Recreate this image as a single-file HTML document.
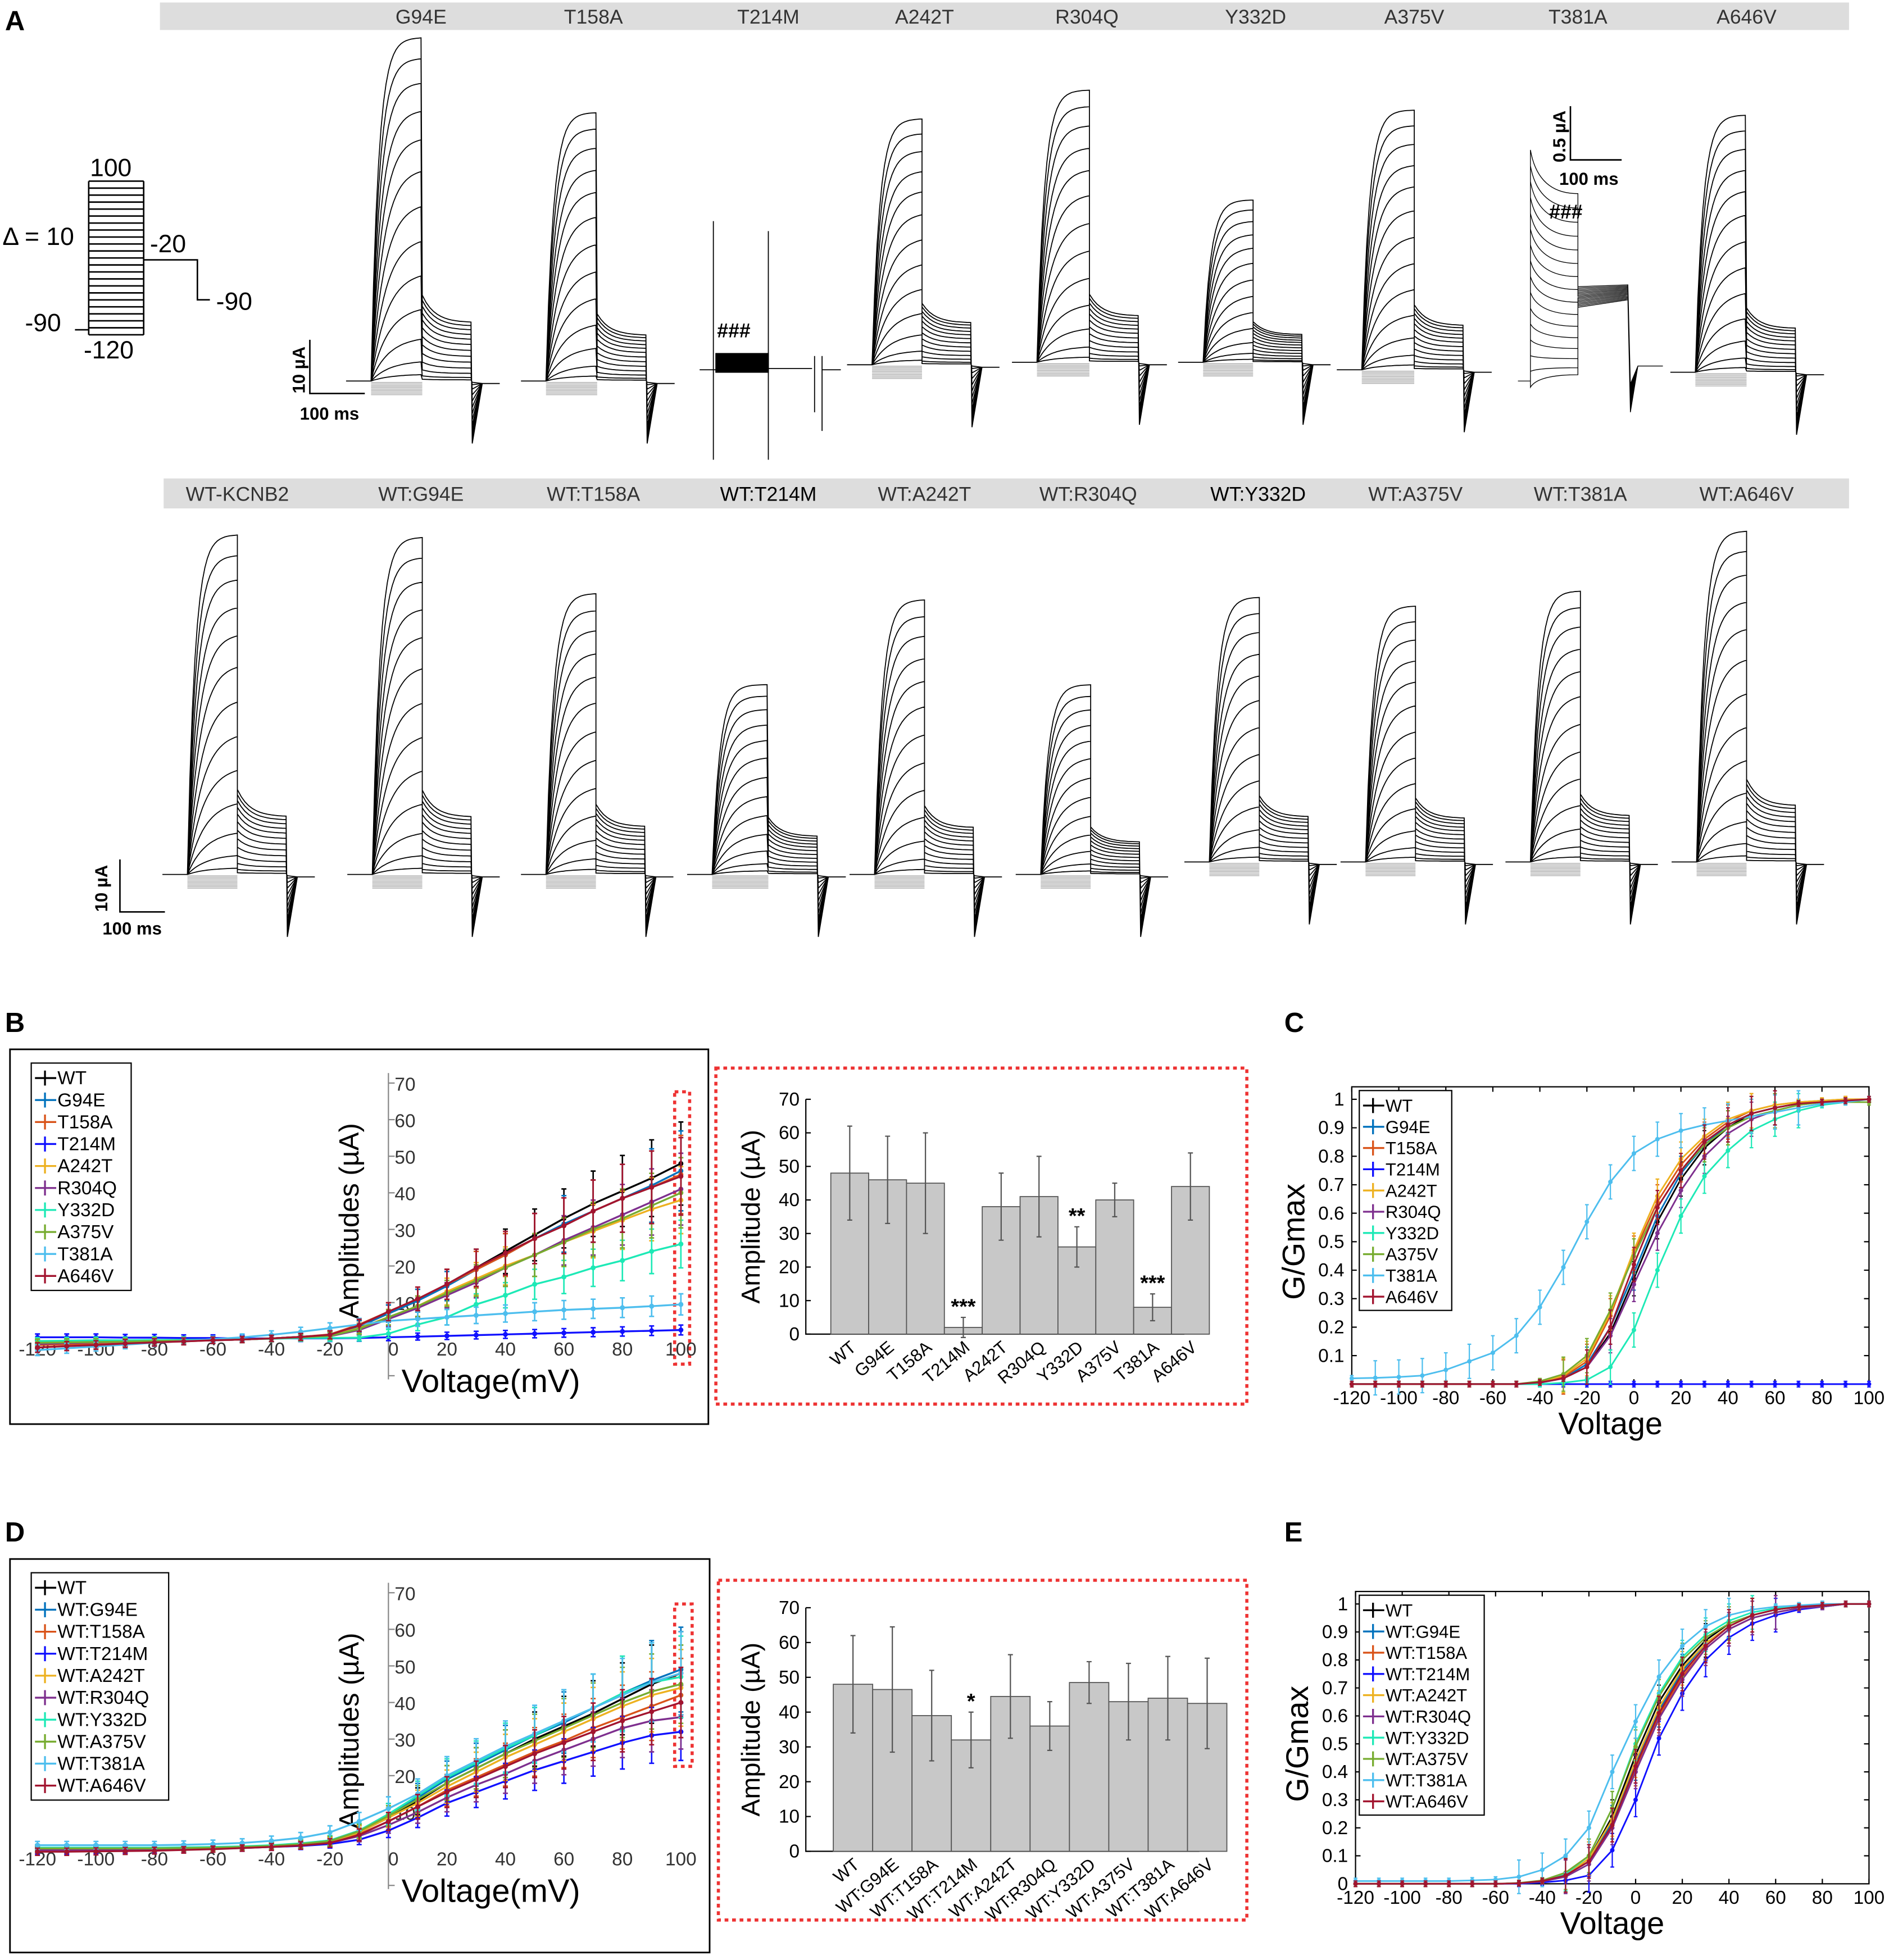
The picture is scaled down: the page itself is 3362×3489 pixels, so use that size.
<!DOCTYPE html>
<html><head><meta charset="utf-8"><style>
html,body{margin:0;padding:0;background:#fff}
svg{display:block}
text{font-family:"Liberation Sans",sans-serif}
</style></head><body>
<svg id="fig" xmlns="http://www.w3.org/2000/svg" width="3362" height="3489" viewBox="0 0 1512 1569" preserveAspectRatio="none">
<rect width="1512" height="1569" fill="#fff"/>
<g id="panelA">
<text x="4" y="24" font-size="22" font-weight="bold">A</text>
<rect x="128" y="2" width="1352" height="22" fill="#ddd"/>
<rect x="131" y="383" width="1349" height="24" fill="#ddd"/>
<g font-size="16" fill="#333" text-anchor="middle">
<text x="337" y="19">G94E</text><text x="475" y="19">T158A</text><text x="615" y="19">T214M</text><text x="740" y="19">A242T</text><text x="870" y="19">R304Q</text><text x="1005" y="19">Y332D</text><text x="1132" y="19">A375V</text><text x="1263" y="19">T381A</text><text x="1398" y="19">A646V</text>
</g>
<g font-size="16" fill="#333" text-anchor="middle">
<text x="190" y="401">WT-KCNB2</text><text x="337" y="401">WT:G94E</text><text x="475" y="401">WT:T158A</text><text x="615" y="401" fill="#000">WT:T214M</text><text x="740" y="401">WT:A242T</text><text x="871" y="401">WT:R304Q</text><text x="1007" y="401" fill="#000">WT:Y332D</text><text x="1133" y="401">WT:A375V</text><text x="1265" y="401">WT:T381A</text><text x="1398" y="401">WT:A646V</text>
</g>
<g id="protocol" stroke="#000" stroke-width="1.2" fill="none"></g>
<g font-size="20">
<text x="72" y="141">100</text><text x="2" y="196">Δ = 10</text><text x="120" y="202">-20</text><text x="173" y="248">-90</text><text x="20" y="265">-90</text><text x="67" y="287">-120</text>
</g>
<g stroke="#000" stroke-width="1.2" fill="none">
<path d="M248 272 V315 H292"/><path d="M1257 85 V128 H1298"/><path d="M96 688 V730 H132"/>
</g>
<g font-size="14" font-weight="bold">
<text x="240" y="336">100 ms</text><text transform="translate(244,315) rotate(-90)">10 µA</text>
<text x="1248" y="148">100 ms</text><text transform="translate(1253,130) rotate(-90)">0.5 µA</text>
<text x="82" y="748">100 ms</text><text transform="translate(86,730) rotate(-90)">10 µA</text>
<text x="574" y="270" font-size="16">###</text><text x="1240" y="175" font-size="16">###</text>
</g>
<g id="traces" stroke="#000" stroke-width="0.8" fill="none"></g>
</g>
<text x="4" y="826" font-size="22" font-weight="bold">B</text>
<text x="1028" y="826" font-size="22" font-weight="bold">C</text>
<text x="4" y="1234" font-size="22" font-weight="bold">D</text>
<text x="1028" y="1234" font-size="22" font-weight="bold">E</text>
<rect x="8" y="840" width="559" height="300" fill="none" stroke="#000" stroke-width="1.3"/>
<rect x="8" y="1248" width="560" height="315" fill="none" stroke="#000" stroke-width="1.3"/>
<rect x="573" y="855" width="425" height="269" fill="none" stroke="#e33" stroke-width="2.5" stroke-dasharray="3,3"/>
<rect x="575" y="1265" width="423" height="272" fill="none" stroke="#e33" stroke-width="2.5" stroke-dasharray="3,3"/>
<rect x="540" y="874" width="12" height="218" fill="none" stroke="#e33" stroke-width="2.5" stroke-dasharray="3,3"/>
<rect x="540" y="1284" width="14" height="130" fill="none" stroke="#e33" stroke-width="2.5" stroke-dasharray="3,3"/>
<g id="charts"></g>
</svg>
<script>
const NS='http://www.w3.org/2000/svg';
function mk(tag,attrs,parent){const e=document.createElementNS(NS,tag);for(const k in attrs)e.setAttribute(k,attrs[k]);parent.appendChild(e);return e;}
const volts=[-120,-110,-100,-90,-80,-70,-60,-50,-40,-30,-20,-10,0,10,20,30,40,50,60,70,80,90,100];
const seriesNames=['WT','G94E','T158A','T214M','A242T','R304Q','Y332D','A375V','T381A','A646V'];
const seriesColors=['#000000','#0072BD','#D95319','#1010ff','#EDB120','#7E2F8E','#1de9b6','#77AC30','#4DBEEE','#A2142F'];
// B: IV amplitudes (µA)
const ivB_WT=[-1.5,-1.3,-1.1,-0.9,-0.7,-0.5,-0.3,-0.1,0.2,0.6,1.2,3.5,7,10.5,15,19.5,24,28.5,33,37,40.5,44,48];
const ivB_G94E=[-1.4,-1.2,-1.0,-0.8,-0.6,-0.5,-0.3,-0.1,0.2,0.6,1.2,3.5,7,10.5,14.5,19,23,27.5,31.5,35,38.5,42,46];
const ivB_T158A=[-1.6,-1.4,-1.2,-1.0,-0.8,-0.6,-0.3,-0.1,0.2,0.6,1.3,4,7.5,11,15,19,23,27.5,31,35,38.5,41.5,45];
const ivB_T214M=[0.5,0.5,0.5,0.4,0.4,0.3,0.3,0.2,0.2,0.2,0.2,0.3,0.5,0.7,0.9,1.1,1.3,1.5,1.7,1.9,2.1,2.3,2.5];
const ivB_A242T=[-1.2,-1,-0.9,-0.7,-0.6,-0.4,-0.3,-0.1,0.2,0.5,1,3,6,9,13,16.5,20,23,26.5,29.5,32.5,35.5,38];
const ivB_R304Q=[-1.3,-1.1,-0.9,-0.7,-0.6,-0.4,-0.3,-0.1,0.2,0.5,0.8,2.5,5.5,8.5,12,15.5,19.5,23,27,30.5,34,37.5,41];
const ivB_Y332D=[-0.5,-0.4,-0.3,-0.3,-0.2,-0.2,-0.1,0,0.1,0.3,0.3,0.4,1.5,4,6,9.5,12,15,17,19.5,21.5,24,26];
const ivB_A375V=[-1,-0.9,-0.8,-0.7,-0.5,-0.4,-0.2,-0.1,0.2,0.5,0.9,2.8,6,9,12.5,16,19.5,23,26.5,30,33,36.5,40];
const ivB_T381A=[-3,-2.5,-2,-1.5,-1,-0.5,0,0.5,1.2,2,3,4,5,5.5,6,6.5,7,7.5,8,8.3,8.6,9,9.5];
const ivB_A646V=[-2.3,-1.9,-1.6,-1.2,-0.9,-0.6,-0.3,-0.1,0.2,0.6,1.2,3.8,7.5,11,15,19.5,23.5,27.5,31,35,38.5,41.5,44.5];
// D: IV amplitudes (µA) co-expression
const ivD_WT=[0,0,0,0,0,0.1,0.2,0.4,0.7,1.2,2,4.5,8.5,13,18,22,26,30,33.5,37,41,45,48];
const ivD_G94E=[0.2,0.2,0.2,0.2,0.2,0.3,0.4,0.6,0.9,1.4,2.3,5,9.5,14,19,23,27,31,34.5,38.5,42.5,46,49];
const ivD_T158A=[0,0,0,0,0,0.1,0.2,0.4,0.7,1.1,1.8,4,7.5,11.5,16,19.5,23,26.5,29.5,33,36,39,42];
const ivD_T214M=[-0.5,-0.5,-0.4,-0.4,-0.3,-0.2,0,0.2,0.5,0.8,1.3,2.5,5,8.5,12.5,15.5,18.5,21.5,24,26.5,29,31,32];
const ivD_A242T=[0,0,0,0,0,0.1,0.2,0.4,0.7,1.1,1.9,4.5,8.5,12.5,17,21,25,28.5,32,35.5,39,42,44];
const ivD_R304Q=[-0.3,-0.3,-0.2,-0.2,-0.1,0,0.1,0.3,0.6,1,1.6,3.5,6.5,10,14,17.5,20.5,24,27,30,33,35,36];
const ivD_Y332D=[0.3,0.3,0.3,0.3,0.3,0.4,0.5,0.7,1,1.5,2.3,5,9.5,14.5,19.5,23.5,27.5,31,35,38.5,42.5,45.5,47];
const ivD_A375V=[0.1,0.1,0.1,0.1,0.1,0.2,0.3,0.5,0.8,1.3,2.1,4.8,9,13.5,18,22,26,29.5,33,36.5,40,43,45];
const ivD_T381A=[1,1,1,1,1,1.1,1.3,1.6,2.2,3,4.5,7.5,11,15,20,24,28,31.5,35,38.5,42,45.5,48];
const ivD_A646V=[-0.8,-0.8,-0.7,-0.6,-0.5,-0.3,-0.1,0.2,0.5,0.9,1.6,3.8,7.5,11.5,15.5,19,22.5,26,29,32,35,37.5,40];
// C: G/Gmax
const gC_WT=[0,0,0,0,0,0,0,0,0.005,0.02,0.06,0.18,0.37,0.57,0.72,0.83,0.9,0.95,0.97,0.985,0.99,0.995,1];
const gC_G94E=[0,0,0,0,0,0,0,0,0.005,0.02,0.07,0.2,0.39,0.59,0.74,0.84,0.91,0.95,0.97,0.985,0.99,0.995,1];
const gC_T158A=[0,0,0,0,0,0,0,0,0.006,0.025,0.08,0.24,0.46,0.64,0.77,0.86,0.92,0.96,0.98,0.99,0.995,1,1];
const gC_T214M=[0,0,0,0,0,0,0,0,0,0,0,0,0,0,0,0,0,0,0,0,0,0,0];
const gC_A242T=[0,0,0,0,0,0,0,0,0.007,0.03,0.09,0.25,0.47,0.66,0.79,0.87,0.93,0.96,0.98,0.99,0.995,1,1];
const gC_R304Q=[0,0,0,0,0,0,0,0,0.005,0.02,0.06,0.17,0.35,0.53,0.68,0.8,0.88,0.93,0.96,0.98,0.99,0.995,1];
const gC_Y332D=[0,0,0,0,0,0,0,0,0,0.005,0.015,0.06,0.19,0.4,0.59,0.73,0.82,0.89,0.93,0.96,0.98,0.99,1];
const gC_A375V=[0,0,0,0,0,0,0,0,0.01,0.035,0.1,0.26,0.45,0.62,0.75,0.84,0.9,0.94,0.96,0.98,0.99,0.99,0.99];
const gC_T381A=[0.02,0.022,0.025,0.03,0.05,0.08,0.11,0.17,0.27,0.41,0.57,0.71,0.81,0.86,0.89,0.91,0.925,0.94,0.955,0.97,0.985,0.99,1];
const gC_A646V=[0,0,0,0,0,0,0,0,0.006,0.02,0.06,0.2,0.42,0.62,0.75,0.85,0.91,0.95,0.97,0.985,0.99,0.995,1];
// E: G/Gmax co-expression
const gE_WT=[0,0,0,0,0,0,0,0.002,0.01,0.03,0.09,0.24,0.46,0.65,0.78,0.87,0.93,0.96,0.98,0.99,0.995,1,1];
const gE_G94E=[0,0,0,0,0,0,0,0.002,0.01,0.03,0.08,0.22,0.43,0.62,0.76,0.86,0.92,0.96,0.98,0.99,0.995,1,1];
const gE_T158A=[0,0,0,0,0,0,0,0.002,0.01,0.03,0.08,0.21,0.41,0.6,0.74,0.84,0.91,0.95,0.97,0.985,0.99,1,1];
const gE_T214M=[0,0,0,0,0,0,0,0,0.005,0.012,0.03,0.12,0.3,0.52,0.68,0.8,0.88,0.93,0.96,0.98,0.99,1,1];
const gE_A242T=[0,0,0,0,0,0,0,0.002,0.01,0.03,0.09,0.23,0.44,0.63,0.77,0.86,0.92,0.96,0.98,0.99,0.995,1,1];
const gE_R304Q=[0,0,0,0,0,0,0,0.002,0.008,0.025,0.07,0.2,0.4,0.59,0.73,0.84,0.91,0.95,0.97,0.985,0.99,1,1];
const gE_Y332D=[0,0,0,0,0,0,0,0.002,0.01,0.035,0.1,0.27,0.5,0.68,0.81,0.89,0.94,0.97,0.985,0.99,0.995,1,1];
const gE_A375V=[0,0,0,0,0,0,0,0.003,0.012,0.04,0.1,0.27,0.49,0.67,0.8,0.88,0.93,0.96,0.98,0.99,0.995,1,1];
const gE_T381A=[0.01,0.01,0.01,0.01,0.01,0.012,0.015,0.025,0.05,0.1,0.2,0.4,0.58,0.74,0.85,0.92,0.96,0.98,0.99,0.995,1,1,1];
const gE_A646V=[0,0,0,0,0,0,0,0.002,0.01,0.03,0.08,0.21,0.42,0.61,0.75,0.85,0.92,0.96,0.98,0.99,0.995,1,1];
// bars
const barB_labels=['WT','G94E','T158A','T214M','A242T','R304Q','Y332D','A375V','T381A','A646V'];
const barB_values=[48,46,45,2,38,41,26,40,8,44];
const barB_errors=[14,13,15,3,10,12,6,5,4,10];
const barB_stars=['','','','***','','','**','','***',''];
const barD_labels=['WT','WT:G94E','WT:T158A','WT:T214M','WT:A242T','WT:R304Q','WT:Y332D','WT:A375V','WT:T381A','WT:A646V'];
const barD_values=[48,46.5,39,32,44.5,36,48.5,43,44,42.5];
const barD_errors=[14,18,13,8,12,7,6,11,12,13];
const barD_stars=['','','','*','','','','','',''];
const yTicksIV=[10,20,30,40,50,60,70];
const xTicksIV=[-120,-100,-80,-60,-40,-20,0,20,40,60,80,100];
const yTicksG=[0.1,0.2,0.3,0.4,0.5,0.6,0.7,0.8,0.9,1];
const barTicks=[0,10,20,30,40,50,60,70];
// family amplitude fractions per step (illustrative traces)
const stepFrac=[0,0,0,0,0,0,0,0,0,0.005,0.02,0.06,0.13,0.22,0.32,0.42,0.52,0.62,0.71,0.79,0.87,0.94,1];

const ivB=[ivB_WT,ivB_G94E,ivB_T158A,ivB_T214M,ivB_A242T,ivB_R304Q,ivB_Y332D,ivB_A375V,ivB_T381A,ivB_A646V];
const ivD=[ivD_WT,ivD_G94E,ivD_T158A,ivD_T214M,ivD_A242T,ivD_R304Q,ivD_Y332D,ivD_A375V,ivD_T381A,ivD_A646V];
const gC=[gC_WT,gC_G94E,gC_T158A,gC_T214M,gC_A242T,gC_R304Q,gC_Y332D,gC_A375V,gC_T381A,gC_A646V];
const gE=[gE_WT,gE_G94E,gE_T158A,gE_T214M,gE_A242T,gE_R304Q,gE_Y332D,gE_A375V,gE_T381A,gE_A646V];

const charts=document.getElementById('charts');

(function(){
 const g=document.getElementById('protocol');
 for(let i=0;i<23;i++){const y=145+i*(123/22);const l=mk('line',{x1:71,x2:115,y1:y,y2:y},g);
 
 }
 mk('path',{d:'M71 145 V268 M115 145 V268 M60 264 H71 M115 208 H158 V240 H168'},g);
})();

const fams=[
 {x0:297,x1:338,base:305,top:30,tailF:0.2},{x0:437,x1:478,base:305,top:90,tailF:0.2},
 {x0:698,x1:738,base:292,top:95,tailF:0.2},{x0:830,x1:872,base:290,top:72,tailF:0.2},
 {x0:963,x1:1003,base:290,top:160,tailF:0.2},{x0:1090,x1:1132,base:296,top:88,tailF:0.2},
 {x0:1357,x1:1398,base:298,top:92,tailF:0.2},
 {x0:150,x1:190,base:700,top:428,tailF:0.2},{x0:298,x1:338,base:700,top:430,tailF:0.2},
 {x0:437,x1:477,base:700,top:475,tailF:0.2},{x0:570,x1:615,base:700,top:548,tailF:0.25},
 {x0:700,x1:740,base:700,top:480,tailF:0.2},{x0:833,x1:873,base:700,top:548,tailF:0.2},
 {x0:968,x1:1008,base:690,top:478,tailF:0.2},{x0:1093,x1:1133,base:690,top:485,tailF:0.2},
 {x0:1225,x1:1265,base:690,top:473,tailF:0.2},{x0:1358,x1:1398,base:690,top:425,tailF:0.2}];
(function(){
 const g=document.getElementById('traces');
 fams.forEach((f,fi)=>{
  const A=f.base-f.top;const w=f.x1-f.x0;let d='';let dn='';
  stepFrac.forEach((fr,k)=>{
   const a=A*fr;
   if(k<10){const neg=(10-k)*1.1;dn+='M'+f.x0+' '+(f.base+neg)+' H'+f.x1;return;}
   let p='M'+(f.x0-20)+' '+f.base+' H'+f.x0;
   for(let t=0;t<=w;t+=2){const y=f.base-a*(1-Math.exp(-t/(6+10*(1-fr))));p+=' L'+(f.x0+t)+' '+y.toFixed(1);}
   for(let t=0;t<=40;t+=3){const y=f.base-a*f.tailF*(0.6+0.4*Math.exp(-t/10))-a*0.05;p+=' L'+(f.x1+t)+' '+y.toFixed(1);}
   p+=' L'+(f.x1+40)+' '+(f.base+fr*50).toFixed(1)+' L'+(f.x1+48)+' '+(f.base+2)+' H'+(f.x1+62);
   d+=p;
  });
  const pth=mk('path',{d:d},g);
  
  
  const pn=mk('path',{d:dn,stroke:'#999','stroke-width':0.5},g);
  
  
 });
 const s=mk('path',{d:'M560 296 H573 M571 177 V368 M615 185 V368 M615 295 H650 M652 285 V330 M658 285 V345 M658 296 H673',stroke:'#000'},g);
 
 
 const r=mk('rect',{x:573,y:283,width:42,height:15,fill:'#000'},g);
 
 
 let d='';
 for(let k=0;k<16;k++){const base=305,x0=1225,x1=1263;const q=k/15;const pk=310-q*190;const pl=300-Math.pow(q,1.2)*145;
  d+='M'+(x0-10)+' '+base+' H'+x0+' L'+x0+' '+pk.toFixed(1)+' Q'+(x0+6)+' '+pl.toFixed(1)+' '+x1+' '+pl.toFixed(1)+' L'+x1+' '+(246-k*1.1).toFixed(1)+' L'+(x1+40)+' '+(240-k*0.8).toFixed(1)+' L'+(x1+42)+' '+(330-k*1.5)+' L'+(x1+48)+' '+(293)+' H'+(x1+68);}
 const t=mk('path',{d:d,'stroke-width':0.6},g);
 
 
})();

function ivChart(cfg,data,names,prefix){
 const g=mk('g',{},charts);
 
 
 const X=v=>cfg.x0+(v+120)/220*(cfg.x1-cfg.x0);
 const Y=v=>cfg.y0-v/70*(cfg.y0-cfg.y70);
 const ax=mk('line',{x1:X(0),x2:X(0),y1:cfg.y70-8,y2:Y(-11),stroke:'#888','stroke-width':1},g);
 
 
 yTicksIV.concat([-10]).forEach(v=>{const t=mk('line',{x1:X(0),x2:X(0)+5,y1:Y(v),y2:Y(v),stroke:'#888'},g);
  
  
  if(v>0){const tx=mk('text',{x:X(0)+5,y:Y(v)+6,'font-size':15,fill:'#333'},g);tx.textContent=v;
  
  }});
 xTicksIV.forEach(v=>{const tx=mk('text',{x:X(v)+(v===0?4:0),y:Y(-4.5),'font-size':15,fill:'#333','text-anchor':'middle'},g);tx.textContent=v;
  
  });
 const yl=mk('text',{transform:`translate(${X(0)-24},${(Y(70)+Y(0))/2+8}) rotate(-90)`,'font-size':22,'text-anchor':'middle'},g);yl.textContent='Amplitudes (µA)';
 
 
 const xl=mk('text',{x:X(0)+82,y:Y(-14.5),'font-size':26,'text-anchor':'middle'},g);xl.textContent='Voltage(mV)';
 
 
 data.forEach((arr,si)=>{
  const c=seriesColors[si];let d='';
  arr.forEach((v,i)=>{d+=(i?'L':'M')+X(volts[i]).toFixed(1)+' '+Y(v).toFixed(1);});
  const p=mk('path',{d:d,stroke:c,fill:'none','stroke-width':1.5},g);
  
  
  arr.forEach((v,i)=>{const e=Math.abs(v)*0.22+0.8;const x=X(volts[i]);
   const eb=mk('path',{d:`M${x} ${Y(v-e)} V${Y(v+e)} M${x-2} ${Y(v-e)} H${x+2} M${x-2} ${Y(v+e)} H${x+2}`,stroke:c,'stroke-width':1.2},g);
   
   
   const m=mk('circle',{cx:x,cy:Y(v),r:2,fill:c},g);
   
   });
 });
 legend(g,cfg.lx,cfg.ly,cfg.lw,names,17.6,15);
}
function legend(g,x,y,w,names,step,fs){
 const box=mk('rect',{x:x,y:y,width:w,height:names.length*step+6,fill:'#fff',stroke:'#000','stroke-width':1},g);
 
 
 names.forEach((n,i)=>{const yy=y+12+i*step;const c=seriesColors[i];
  const l=mk('path',{d:`M${x+3} ${yy} H${x+20} M${x+11} ${yy-6} V${yy+6}`,stroke:c,'stroke-width':1.5},g);
  
  
  const t=mk('text',{x:x+21,y:yy+5,'font-size':fs},g);t.textContent=n;
  
  });
}
function gChart(cfg,data,names,prefix){
 const g=mk('g',{},charts);
 
 
 const X=v=>cfg.x0+(v+120)/220*(cfg.x1-cfg.x0);
 const Y=v=>cfg.y0-v*(cfg.y0-cfg.y1);
 const fr=mk('rect',{x:cfg.x0,y:cfg.y1-10,width:cfg.x1-cfg.x0,height:cfg.y0-cfg.y1+10,fill:'none',stroke:'#000','stroke-width':1},g);
 
 
 yTicksG.forEach(v=>{const tk=mk('path',{d:`M${cfg.x0} ${Y(v)} h4 M${cfg.x1} ${Y(v)} h-4`,stroke:'#000'},g);
  
  
  const t=mk('text',{x:cfg.x0-6,y:Y(v)+5,'font-size':15,'text-anchor':'end'},g);t.textContent=v;
  
  });
 if(cfg.zero){const t=mk('text',{x:cfg.x0-6,y:Y(0)+5,'font-size':15,'text-anchor':'end'},g);t.textContent='0';
  
  }
 xTicksIV.forEach(v=>{const tk=mk('path',{d:`M${X(v)} ${cfg.y0} v-4 M${X(v)} ${cfg.y1-10} v4`,stroke:'#000'},g);
  
  
  const t=mk('text',{x:X(v),y:cfg.y0+16,'font-size':15,'text-anchor':'middle'},g);t.textContent=v;
  
  });
 const xl=mk('text',{x:(cfg.x0+cfg.x1)/2,y:cfg.y0+40,'font-size':25,'text-anchor':'middle'},g);xl.textContent='Voltage';
 
 
 const yl=mk('text',{transform:`translate(${cfg.x0-38},${(cfg.y0+cfg.y1)/2}) rotate(-90)`,'font-size':25,'text-anchor':'middle'},g);yl.textContent='G/Gmax';
 
 
 data.forEach((arr,si)=>{const c=seriesColors[si];let d='';
  arr.forEach((v,i)=>{d+=(i?'L':'M')+X(volts[i]).toFixed(1)+' '+Y(v).toFixed(1);});
  const p=mk('path',{d:d,stroke:c,fill:'none','stroke-width':1.3},g);
  
  
  arr.forEach((v,i)=>{const x=X(volts[i]);const e=(v>0.02&&v<0.98)?0.06:0.01;
   const eb=mk('path',{d:`M${x} ${Y(v-e)} V${Y(v+e)} M${x-1.5} ${Y(v-e)} h3 M${x-1.5} ${Y(v+e)} h3`,stroke:c,'stroke-width':1},g);
   
   
   const m=mk('circle',{cx:x,cy:Y(v),r:1.8,fill:c},g);
   
   });
 });
 legend(g,cfg.lx,cfg.ly,cfg.lw,names,17,14);
}
function barChart(cfg,labels,vals,errs,stars,prefix){
 const g=mk('g',{},charts);
 
 
 const Y=v=>cfg.y0-v/70*(cfg.y0-cfg.y70);
 const bw=(cfg.x1-cfg.x0)/labels.length;
 const ax=mk('path',{d:`M${cfg.x0} ${cfg.y70} V${cfg.y0} H${cfg.x1}`,stroke:'#000',fill:'none'},g);
 
 
 barTicks.forEach(v=>{const tk=mk('line',{x1:cfg.x0,x2:cfg.x0+4,y1:Y(v),y2:Y(v),stroke:'#000'},g);
  
  
  const t=mk('text',{x:cfg.x0-5,y:Y(v)+5,'font-size':15,'text-anchor':'end'},g);t.textContent=v;
  
  });
 const yl=mk('text',{transform:`translate(${cfg.x0-37},${(cfg.y0+cfg.y70)/2}) rotate(-90)`,'font-size':21,'text-anchor':'middle'},g);yl.textContent='Amplitude (µA)';
 
 
 labels.forEach((lb,i)=>{const x=cfg.x0+cfg.pad+i*bw;
  const r=mk('rect',{x:x,y:Y(vals[i]),width:bw,height:Y(0)-Y(vals[i]),fill:'#c8c8c8',stroke:'#555','stroke-width':0.8},g);
  
  
  const cx=x+bw/2;
  const eb=mk('path',{d:`M${cx} ${Y(vals[i]-errs[i])} V${Y(vals[i]+errs[i])} M${cx-2} ${Y(vals[i]+errs[i])} h4 M${cx-2} ${Y(vals[i]-errs[i])} h4`,stroke:'#555'},g);
  
  
  const t=mk('text',{transform:`translate(${cx+6},${cfg.y0+12}) rotate(-40)`,'font-size':14,'text-anchor':'end'},g);t.textContent=lb;
  
  
  if(stars[i]){const s=mk('text',{x:cx,y:Y(vals[i]+errs[i])-3,'font-size':17,'font-weight':'bold','text-anchor':'middle'},g);s.textContent=stars[i];
  
  }
 });
}
ivChart({x0:30,x1:545,y0:1072,y70:867,lx:25,ly:851,lw:80},ivB,seriesNames,'b');
ivChart({x0:30,x1:545,y0:1480,y70:1275,lx:25,ly:1259,lw:110},ivD,seriesNames.map((n,i)=>i?'WT:'+n:n),'d');
barChart({x0:645,x1:948,y0:1068,y70:880,pad:20},barB_labels,barB_values,barB_errors,barB_stars,'b');
barChart({x0:645,x1:960,y0:1482,y70:1287,pad:22},barD_labels,barD_values,barD_errors,barD_stars,'d');
gChart({x0:1082,x1:1496,y0:1108,y1:880,lx:1088,ly:873,lw:74},gC,seriesNames,'c');
gChart({x0:1085,x1:1496,y0:1508,y1:1284,lx:1088,ly:1277,lw:100,zero:true},gE,seriesNames.map((n,i)=>i?'WT:'+n:n),'e');
</script>
</body></html>
